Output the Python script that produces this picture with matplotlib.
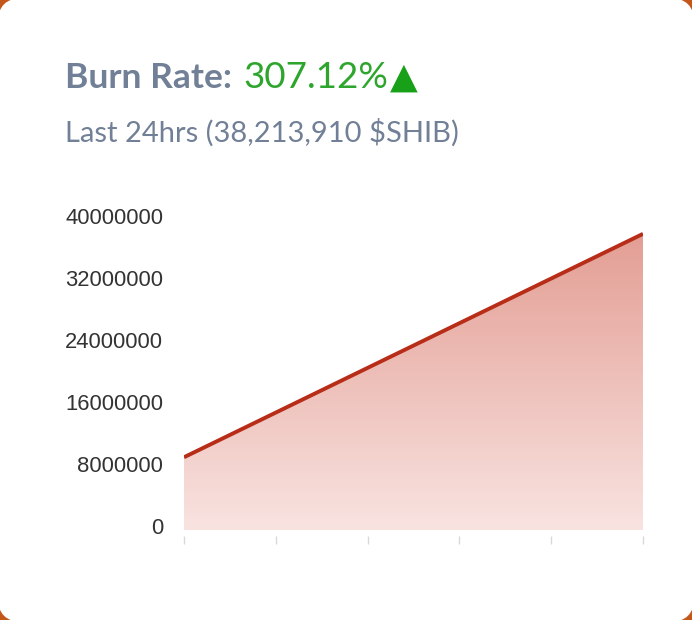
import matplotlib.pyplot as plt
import numpy as np
from matplotlib.patches import FancyBboxPatch, Polygon
from matplotlib.transforms import ScaledTranslation

# data
x_pos = [0, 5]
burn = [9386400, 38213910]
x_ticks = [0, 1, 2, 3, 4, 5]
y_ticks = [0, 8000000, 16000000, 24000000, 32000000, 40000000]

W, H = 692, 620
fig = plt.figure(figsize=(W / 100, H / 100), dpi=100)
fig.patch.set_facecolor("#c4561a")

# white card, only the corners show the orange behind it
card = FancyBboxPatch((-0.003, -0.003), 1.006, 1.006,
                      boxstyle="round,pad=0,rounding_size=0.035",
                      transform=fig.transFigure, facecolor="white",
                      edgecolor="none", mutation_aspect=W / H, zorder=-5)
fig.patches.append(card)

# title
t1 = fig.text(65 / W, 1 - 88 / H, "Burn Rate: ", fontsize=25.5, fontweight="bold",
              color="#718096", family="Lato", va="baseline")
fig.canvas.draw()
bb = t1.get_window_extent()
t2 = fig.text(bb.x1 / W + 0.004, 1 - 88 / H, "307.12%", fontsize=26.5,
              color="#2ea62e", family="Lato", va="baseline")
fig.canvas.draw()
bb2 = t2.get_window_extent()
fig.text(bb2.x1 / W + 0.003, 1 - 88 / H, "\u25B2", fontsize=26, color="#18a018",
         family="DejaVu Sans", va="baseline")
fig.text(65 / W, 1 - 142 / H, "Last 24hrs (38,213,910 $SHIB)", fontsize=21,
         color="#718096", family="Lato", va="baseline")

ax = fig.add_axes([184 / W, 1 - 530 / H, (643 - 184) / W, (530 - 220) / H])
for s in ax.spines.values():
    s.set_visible(False)
ax.set_facecolor("none")

# gradient fill under line
grad = np.linspace(0, 1, 256).reshape(-1, 1)
top = np.array([0.89, 0.62, 0.58])
bot = np.array([0.975, 0.89, 0.88])
img = (bot + (top - bot) * grad).reshape(256, 1, 3)
im = ax.imshow(img, extent=[x_pos[0], x_pos[-1], 0, max(burn)], origin="lower",
               aspect="auto", zorder=1)
poly = Polygon([(x_pos[0], 0)] + list(zip(x_pos, burn)) + [(x_pos[-1], 0)],
               closed=True, facecolor="none", edgecolor="none")
ax.add_patch(poly)
im.set_clip_path(poly)
ax.set_xlim(x_pos[0], x_pos[-1])
ax.set_ylim(0, 40000000)

ax.plot(x_pos, burn, color="#b82d18", lw=2.8, zorder=3, solid_capstyle="butt")

ax.set_xticks(x_ticks)
ax.set_xticklabels([])
ax.tick_params(axis="x", length=6, width=1, color="#d9d9d9", pad=0, direction="out")
ax.spines["bottom"].set_position(("outward", 4))

ax.set_yticks(y_ticks)
ax.set_yticklabels([str(v) for v in y_ticks], family="Liberation Sans",
                   fontsize=15.8, color="#333333")
ax.tick_params(axis="y", length=0, pad=15)
# labels sit a few pixels above their values
shift = ScaledTranslation(0, 4.5 / 100, fig.dpi_scale_trans)
for lab in ax.get_yticklabels():
    lab.set_transform(lab.get_transform() + shift)

fig.savefig("out.png", dpi=100, facecolor=fig.get_facecolor())
